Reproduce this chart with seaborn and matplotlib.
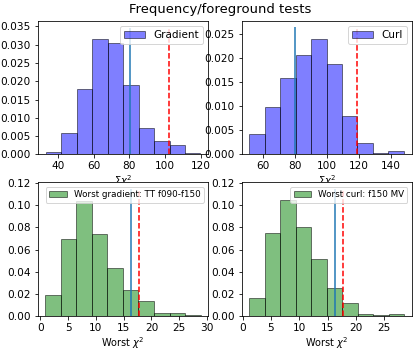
import numpy as np
import pandas as pd
import seaborn as sns
import matplotlib.pyplot as plt
from matplotlib.ticker import MultipleLocator

plt.rcParams['font.family'] = ['DejaVu Sans']
plt.rcParams['font.size'] = 10.5

# 梯度 / 旋度 总 chi^2 分布 (密度)
grad_edges = [32.9, 41.6, 50.3, 59.0, 67.7, 76.4, 85.1, 93.8, 102.5, 111.2, 119.9]
grad_dens = [0.0007, 0.0060, 0.0180, 0.0314, 0.0303, 0.0190, 0.0071, 0.0036, 0.0027, 0.0003]
grad_obs, grad_thresh = 80.2, 102.0

curl_edges = [51.2, 60.9, 70.6, 80.3, 90.0, 99.7, 109.4, 119.1, 128.8, 138.5, 148.2]
curl_dens = [0.0042, 0.0098, 0.0158, 0.0206, 0.0241, 0.0189, 0.0080, 0.0024, 0.0003, 0.0007]
curl_obs, curl_thresh = 79.6, 118.7

# 最差 chi^2 分布
wgrad_edges = [0.90, 3.70, 6.49, 9.29, 12.08, 14.88, 17.67, 20.47, 23.26, 26.06, 28.85]
wgrad_dens = [0.0194, 0.0700, 0.1040, 0.0741, 0.0432, 0.0235, 0.0137, 0.0030, 0.0030, 0.0012]
wgrad_obs, wgrad_thresh = 16.4, 17.8

wcurl_edges = [1.19, 3.93, 6.66, 9.40, 12.13, 14.87, 17.61, 20.34, 23.08, 25.81, 28.55]
wcurl_dens = [0.0163, 0.0747, 0.1043, 0.0800, 0.0513, 0.0258, 0.0121, 0.0018, 0.0009, 0.0018]
wcurl_obs, wcurl_thresh = 16.3, 17.7

panels = [
    dict(edges=grad_edges, dens=grad_dens, obs=grad_obs, thresh=grad_thresh, color='blue',
         label='Gradient', xlabel=r'$\Sigma \chi^2$', xlim=(28.6, 124.2), ylim=0.0365,
         xstep=20, ystep=0.005, legsize=10.4),
    dict(edges=curl_edges, dens=curl_dens, obs=curl_obs, thresh=curl_thresh, color='blue',
         label='Curl', xlabel=r'$\Sigma \chi^2$', xlim=(46.3, 153.3), ylim=0.0278,
         xstep=20, ystep=0.005, legsize=10.4),
    dict(edges=wgrad_edges, dens=wgrad_dens, obs=wgrad_obs, thresh=wgrad_thresh, color='green',
         label='Worst gradient: TT f090-f150', xlabel=r'Worst $\chi^2$', xlim=(-0.43, 30.2),
         ylim=0.1205, xstep=5, ystep=0.02, legsize=8.7),
    dict(edges=wcurl_edges, dens=wcurl_dens, obs=wcurl_obs, thresh=wcurl_thresh, color='green',
         label='Worst curl: f150 MV', xlabel=r'Worst $\chi^2$', xlim=(-0.2, 29.9),
         ylim=0.1205, xstep=5, ystep=0.02, legsize=8.7),
]

fig, axes = plt.subplots(2, 2, figsize=(416 / 72, 351 / 72), dpi=72)
fig.subplots_adjust(left=0.091, right=0.990, top=0.941, bottom=0.099, wspace=0.196, hspace=0.209)

for ax, p in zip(axes.flat, panels):
    e = np.array(p['edges'])
    df = pd.DataFrame({"x": (e[:-1] + e[1:]) / 2, "w": p['dens']})
    sns.histplot(data=df, x="x", weights="w", bins=list(p['edges']), stat='count',
                 color=p['color'], alpha=0.5, edgecolor=(0, 0, 0, 0.5), linewidth=1.0,
                 label=p['label'], ax=ax)
    top = 1.1 * max(p['dens'])
    ax.vlines(p['obs'], 0, top, colors='C0', linewidth=1.5)
    ax.vlines(p['thresh'], 0, top, colors='r', linestyles='--', linewidth=1.5)
    ax.set_xlim(*p['xlim'])
    ax.set_ylim(0, p['ylim'])
    ax.xaxis.set_major_locator(MultipleLocator(p['xstep']))
    ax.yaxis.set_major_locator(MultipleLocator(p['ystep']))
    ax.set_xlabel(p['xlabel'], fontsize=9.8, labelpad=1.5)
    ax.set_ylabel('')
    ax.legend(loc='upper right', fontsize=p['legsize'])

fig.suptitle('Frequency/foreground tests', x=0.53, y=0.992, va='top', fontsize=13.1)
fig.savefig('out.png', dpi=72)
